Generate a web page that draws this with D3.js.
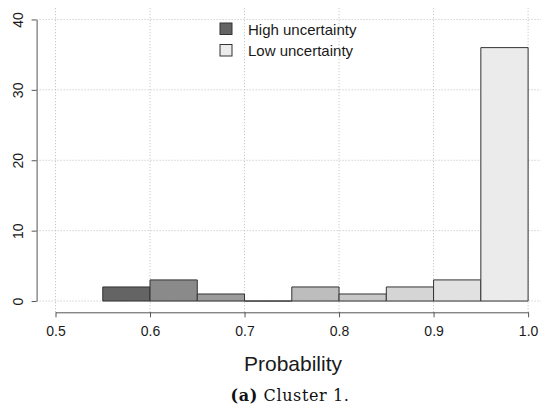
<!DOCTYPE html>
<html>
<head>
<meta charset="utf-8">
<script src="https://cdn.jsdelivr.net/npm/d3@7"></script>
<style>
    body { margin: 0; background: #fff; }
    svg { display: block; }
</style>
</head>
<body>
<svg id="chart" width="541" height="409"></svg>
<script>
// Histogram data
const binStarts = [0.55, 0.6, 0.65, 0.7, 0.75, 0.8, 0.85, 0.9, 0.95];
const binEnds = [0.6, 0.65, 0.7, 0.75, 0.8, 0.85, 0.9, 0.95, 1.0];
const counts = [2, 3, 1, 0, 2, 1, 2, 3, 36];
const xTicks = [0.5, 0.6, 0.7, 0.8, 0.9, 1.0];
const yTicks = [0, 10, 20, 30, 40];
const legendLabels = ["High uncertainty", "Low uncertainty"];

// grey ramp, dark -> light
const barColors = ["#646464", "#8a8a8a", "#9b9b9b", "#adadad", "#bdbdbd",
    "#c8c8c8", "#d5d5d5", "#e1e1e1", "#ebebeb"];

const svg = d3.select("#chart");

// plot region (R style, 4% padding round the data range)
const x = d3.scaleLinear().domain([0.48, 1.02]).range([36.6, 547]);
const y = d3.scaleLinear().domain([-1.6, 41.6]).range([312.3, 8.2]);

// dotted grid
const grid = svg.append("g")
    .attr("stroke", "#bdbdbd")
    .attr("stroke-width", 1)
    .attr("stroke-dasharray", "1,2");
grid.selectAll(".vgrid")
    .data(xTicks)
    .enter()
    .append("line")
    .attr("x1", (d) => x(d))
    .attr("x2", (d) => x(d))
    .attr("y1", y.range()[1])
    .attr("y2", y.range()[0]);
grid.selectAll(".hgrid")
    .data(yTicks)
    .enter()
    .append("line")
    .attr("x1", x.range()[0])
    .attr("x2", x.range()[1])
    .attr("y1", (d) => y(d))
    .attr("y2", (d) => y(d));

// bars (paths so that an empty bin still shows its outline)
const bins = counts.map((c, i) => ({ x0: binStarts[i], x1: binEnds[i], n: c, i: i }));
svg.append("g")
    .selectAll("path")
    .data(bins)
    .enter()
    .append("path")
    .attr("d", (d) => {
        const p = d3.path();
        p.moveTo(x(d.x0), y(0));
        p.lineTo(x(d.x0), y(d.n));
        p.lineTo(x(d.x1), y(d.n));
        p.lineTo(x(d.x1), y(0));
        p.closePath();
        return p.toString();
    })
    .attr("fill", (d) => barColors[d.i])
    .attr("stroke", "#333")
    .attr("stroke-width", 1);

// axes only span the tick range
const xAxisScale = x.copy().domain([0.5, 1.0]).range([x(0.5), x(1.0)]);
const yAxisScale = y.copy().domain([0, 40]).range([y(0), y(40)]);

const xAxis = svg.append("g")
    .attr("transform", `translate(0,${y.range()[0]})`)
    .call(d3.axisBottom(xAxisScale)
        .tickValues(xTicks)
        .tickFormat(d3.format(".1f"))
        .tickSize(5)
        .tickSizeOuter(0));
xAxis.selectAll("text")
    .attr("y", 23.7)
    .attr("dy", 0)
    .attr("fill", "#1a1a1a")
    .style("font", "14px 'Liberation Sans', Arial, sans-serif");

const yAxis = svg.append("g")
    .attr("transform", `translate(${x.range()[0]},0)`)
    .call(d3.axisLeft(yAxisScale)
        .tickValues(yTicks)
        .tickSize(5)
        .tickSizeOuter(0));
yAxis.selectAll("text")
    .attr("transform", "rotate(-90)")
    .attr("x", 0)
    .attr("y", -14)
    .attr("dy", 0)
    .attr("text-anchor", "middle")
    .attr("fill", "#1a1a1a")
    .style("font", "14px 'Liberation Sans', Arial, sans-serif");

svg.selectAll(".domain, .tick line").attr("stroke", "#555");

// x label
svg.append("text")
    .attr("x", 293)
    .attr("y", 371)
    .attr("text-anchor", "middle")
    .attr("fill", "#1a1a1a")
    .style("font", "21px 'Liberation Sans', Arial, sans-serif")
    .text("Probability");

// caption
const caption = svg.append("text")
    .attr("x", 290)
    .attr("y", 401)
    .attr("text-anchor", "middle")
    .attr("fill", "#111")
    .style("font", "16px 'DejaVu Serif', serif")
    .style("letter-spacing", "0.6px");
caption.append("tspan").style("font-weight", "bold").text("(a)");
caption.append("tspan").text(" Cluster 1.");

// legend
const legendFills = [barColors[0], barColors[barColors.length - 1]];
const legend = svg.append("g")
    .selectAll("g")
    .data(legendLabels)
    .enter()
    .append("g")
    .attr("transform", (d, i) => `translate(220,${23 + i * 21.5})`);
legend.append("rect")
    .attr("width", 12)
    .attr("height", 11.5)
    .attr("fill", (d, i) => legendFills[i])
    .attr("stroke", "#333");
legend.append("text")
    .attr("x", 28)
    .attr("y", 11.5)
    .attr("fill", "#1a1a1a")
    .style("font", "15px 'Liberation Sans', Arial, sans-serif")
    .text((d) => d);
</script>
</body>
</html>
